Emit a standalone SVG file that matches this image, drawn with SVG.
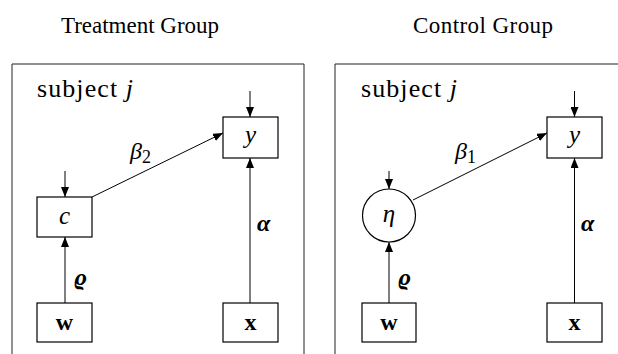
<svg xmlns="http://www.w3.org/2000/svg" width="618" height="354" viewBox="0 0 618 354" font-family="'Liberation Serif', 'DejaVu Serif', serif">
<defs>
<marker id="ah" viewBox="0 0 10 8" refX="10" refY="4" markerWidth="10" markerHeight="8" markerUnits="userSpaceOnUse" orient="auto">
<path d="M0,0 L10,4 L0,8 z" fill="#000"/>
</marker>
</defs>
<style>
.frame{fill:none;stroke:#222;stroke-width:1}
.box{fill:#fff;stroke:#000;stroke-width:1.2}
.edge{fill:none;stroke:#000;stroke-width:1;marker-end:url(#ah)}
text{font-family:'Liberation Serif','DejaVu Serif',serif;fill:#000}
.title{font-size:23px}
.sub{font-size:26px}
.it{font-style:italic;font-size:25px}
.bd{font-weight:bold;font-size:24px}
.lab{font-style:italic;font-size:24px}
</style>
<rect width="618" height="354" fill="#fff"/>
<text class="title" x="140" y="33" text-anchor="middle">Treatment Group</text>
<text class="title" x="483" y="33" text-anchor="middle" textLength="140" lengthAdjust="spacing">Control Group</text>
<g id="treatment-panel">
<path class="frame" d="M12,354 V64 H304 V354"/>
<text class="sub" x="37" y="97" textLength="96" lengthAdjust="spacing">subject <tspan font-style="italic">j</tspan></text>
</g>
<g id="control-panel">
<path class="frame" d="M335,354 V64 H618"/>
<text class="sub" x="361" y="97" textLength="96" lengthAdjust="spacing">subject <tspan font-style="italic">j</tspan></text>
</g>
<g id="connectors">
<line class="edge" x1="250" y1="91" x2="250" y2="117"/>
<line class="edge" x1="65" y1="171" x2="65" y2="197"/>
<line class="edge" x1="65" y1="303" x2="65" y2="237"/>
<line class="edge" x1="250" y1="303" x2="250" y2="158"/>
<line class="edge" x1="92" y1="197" x2="223" y2="133"/>
<line class="edge" x1="574.5" y1="91" x2="574.5" y2="117"/>
<line class="edge" x1="389" y1="171" x2="389" y2="189"/>
<line class="edge" x1="389" y1="303" x2="389" y2="242"/>
<line class="edge" x1="574.5" y1="303" x2="574.5" y2="158"/>
<line class="edge" x1="413" y1="200" x2="547" y2="133"/>
<text class="lab" x="130" y="159">β<tspan font-style="normal" font-size="18" dy="4">2</tspan></text>
<text class="lab" x="455" y="159">β<tspan font-style="normal" font-size="18" dy="4">1</tspan></text>
<text class="bd" x="74" y="285" font-style="italic">ϱ</text>
<text class="bd" x="398" y="285" font-style="italic">ϱ</text>
<text class="bd" x="257" y="231" font-style="italic">α</text>
<text class="bd" x="581" y="231" font-style="italic">α</text>
</g>
<g id="node-y-treat">
<rect class="box" x="223" y="117" width="55" height="41"/>
<text class="it" x="250.5" y="143" text-anchor="middle">y</text>
</g>
<g id="node-c">
<rect class="box" x="37" y="197" width="55" height="40"/>
<text class="it" x="64.5" y="224" text-anchor="middle">c</text>
</g>
<g id="node-w-treat">
<rect class="box" x="37" y="303" width="55" height="39"/>
<text class="bd" x="64.5" y="330" text-anchor="middle">w</text>
</g>
<g id="node-x-treat">
<rect class="box" x="223" y="303" width="55" height="39"/>
<text class="bd" x="250.5" y="330" text-anchor="middle">x</text>
</g>
<g id="node-y-ctrl">
<rect class="box" x="547" y="117" width="55" height="41"/>
<text class="it" x="574.5" y="143" text-anchor="middle">y</text>
</g>
<g id="node-eta">
<circle class="box" cx="389" cy="215.5" r="26.5"/>
<text class="it" x="389" y="222" text-anchor="middle">η</text>
</g>
<g id="node-w-ctrl">
<rect class="box" x="362" y="303" width="54" height="39"/>
<text class="bd" x="389" y="330" text-anchor="middle">w</text>
</g>
<g id="node-x-ctrl">
<rect class="box" x="547" y="303" width="55" height="39"/>
<text class="bd" x="574.5" y="330" text-anchor="middle">x</text>
</g>
</svg>
